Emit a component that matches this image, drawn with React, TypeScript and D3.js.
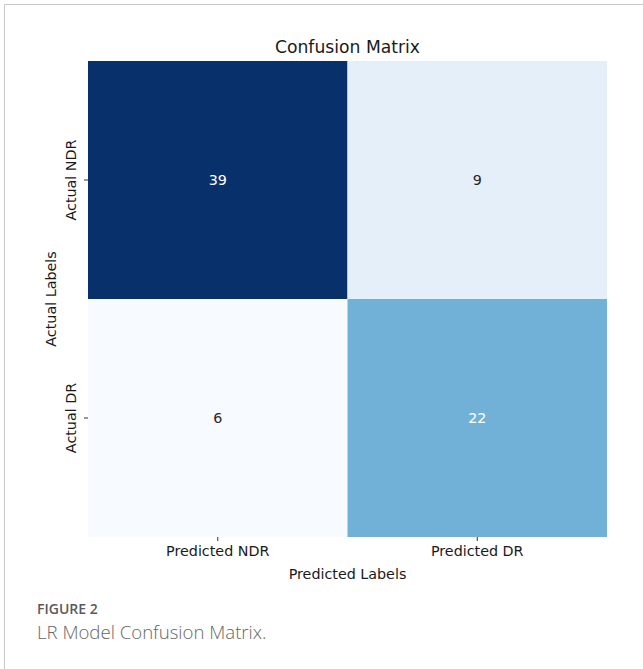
import React from "react";
import * as d3 from "d3";

// Confusion matrix counts: rows = actual class, columns = predicted class
const actualClasses = ["NDR", "DR"];
const predictedClasses = ["NDR", "DR"];
const rowNDR = [39, 9];
const rowDR = [6, 22];
const matrix = [rowNDR, rowDR];

const titleText = "Confusion Matrix";
const xAxisTitle = "Predicted Labels";
const yAxisTitle = "Actual Labels";
const figureLabel = "FIGURE 2";
const captionText = "LR Model Confusion Matrix.";

// ColorBrewer "Blues" stops
const bluesStops = ["#f7fbff", "#deebf7", "#c6dbef", "#9ecae1", "#6baed6", "#4292c6", "#2171b5", "#08519c", "#08306b"];

const W = 643;
const H = 669;
const plot = { left: 88, top: 61, right: 607, bottom: 537 };
const chartFont = "'DejaVu Sans', sans-serif";
const tickSize = 14.3;

export default function App() {
  const values = matrix.flat();
  const vmin = d3.min(values) as number;
  const vmax = d3.max(values) as number;

  const color = d3
    .scaleLinear<string>()
    .domain(bluesStops.map((_, i) => vmin + ((vmax - vmin) * i) / (bluesStops.length - 1)))
    .range(bluesStops)
    .interpolate(d3.interpolateRgb);

  const x = d3.scaleBand<string>().domain(predictedClasses).range([plot.left, plot.right]);
  const y = d3.scaleBand<string>().domain(actualClasses).range([plot.top, plot.bottom]);

  const textColor = (v: number) => {
    const c = d3.rgb(color(v));
    const lin = (u: number) => {
      const s = u / 255;
      return s <= 0.03928 ? s / 12.92 : Math.pow((s + 0.055) / 1.055, 2.4);
    };
    const lum = 0.2126 * lin(c.r) + 0.7152 * lin(c.g) + 0.0722 * lin(c.b);
    return lum > 0.408 ? "#262626" : "#ffffff";
  };

  return (
    <svg
      width={W}
      height={H}
      style={{ position: "absolute", left: 0, top: 0, background: "#fff" }}
    >
      {/* card frame */}
      <line x1={4.5} y1={4.5} x2={W} y2={4.5} stroke="#c8c8c8" strokeWidth={1} />
      <line x1={4.5} y1={4.5} x2={4.5} y2={H} stroke="#c8c8c8" strokeWidth={1} />

      <text x={(plot.left + plot.right) / 2} y={53} textAnchor="middle" fontFamily={chartFont} fontSize={17.2} fill="#1a1a1a">
        {titleText}
      </text>

      {matrix.map((row, i) =>
        row.map((v, j) => (
          <g key={`${i}-${j}`}>
            <rect
              x={x(predictedClasses[j])}
              y={y(actualClasses[i])}
              width={x.bandwidth()}
              height={y.bandwidth()}
              fill={color(v)}
            />
            <text
              x={(x(predictedClasses[j]) as number) + x.bandwidth() / 2}
              y={(y(actualClasses[i]) as number) + y.bandwidth() / 2}
              dy="0.35em"
              textAnchor="middle"
              fontFamily={chartFont}
              fontSize={tickSize}
              fill={textColor(v)}
            >
              {v}
            </text>
          </g>
        ))
      )}

      {/* x ticks */}
      {predictedClasses.map((c) => {
        const cx = (x(c) as number) + x.bandwidth() / 2;
        return (
          <g key={c}>
            <line x1={cx} x2={cx} y1={plot.bottom} y2={plot.bottom + 4} stroke="#333" strokeWidth={1} />
            <text x={cx} y={555.5} textAnchor="middle" fontFamily={chartFont} fontSize={tickSize} fill="#1a1a1a">
              {`Predicted ${c}`}
            </text>
          </g>
        );
      })}
      <text x={(plot.left + plot.right) / 2} y={578.5} textAnchor="middle" fontFamily={chartFont} fontSize={tickSize} fill="#1a1a1a">
        {xAxisTitle}
      </text>

      {/* y ticks */}
      {actualClasses.map((c) => {
        const cy = (y(c) as number) + y.bandwidth() / 2;
        return (
          <g key={c}>
            <line x1={plot.left - 4} x2={plot.left} y1={cy} y2={cy} stroke="#333" strokeWidth={1} />
            <text
              transform={`translate(76,${cy}) rotate(-90)`}
              textAnchor="middle"
              fontFamily={chartFont}
              fontSize={tickSize}
              fill="#1a1a1a"
            >
              {`Actual ${c}`}
            </text>
          </g>
        );
      })}
      <text
        transform={`translate(56,${(plot.top + plot.bottom) / 2}) rotate(-90)`}
        textAnchor="middle"
        fontFamily={chartFont}
        fontSize={tickSize}
        fill="#1a1a1a"
      >
        {yAxisTitle}
      </text>

      {/* caption */}
      <text x={37} y={614} fontFamily="'Open Sans', sans-serif" fontSize={14} fontWeight={600} fill="#5a5a5a">
        {figureLabel}
      </text>
      <text x={37} y={639} fontFamily="'Open Sans', sans-serif" fontSize={18.6} fontWeight={300} fill="#666">
        {captionText}
      </text>
    </svg>
  );
}
